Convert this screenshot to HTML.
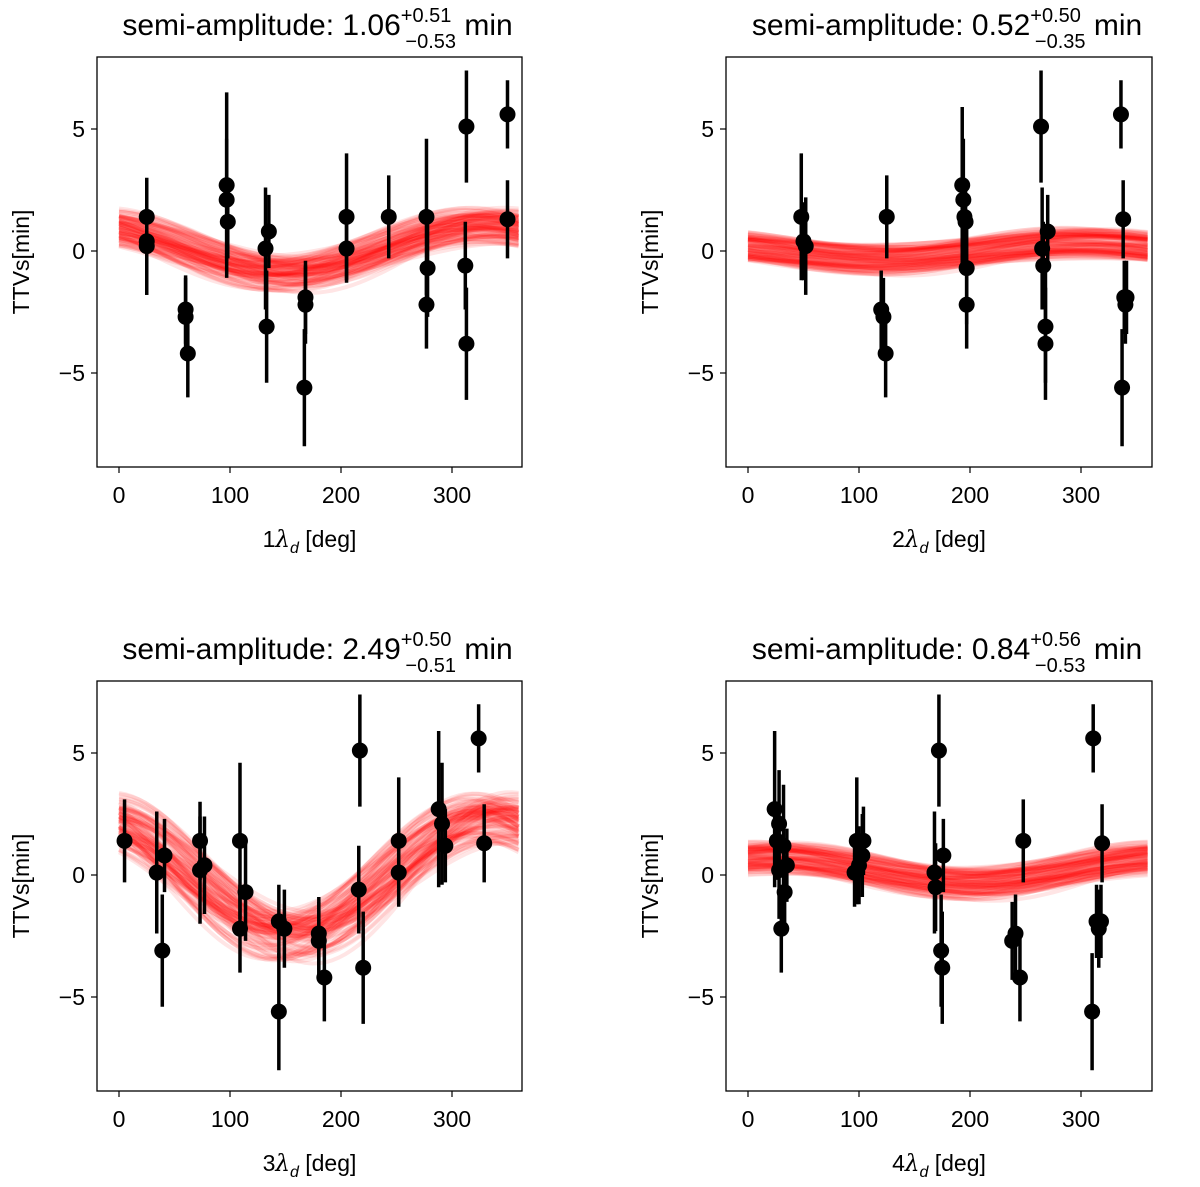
<!DOCTYPE html>
<html><head><meta charset="utf-8"><style>
body{margin:0;background:#fff;}
svg text{font-family:"Liberation Sans","DejaVu Sans",sans-serif;fill:#000;}
</style></head><body>
<svg id="fig" width="1200" height="1182" viewBox="0 0 1200 1182" xmlns="http://www.w3.org/2000/svg"></svg>
<script>
// Panel 1 data
const x1 = [25,25,25,60,60,62,97,97,98,135,132,133,168,168,167,205,205,243,277,278,277,313,312,313,350,350];
const y1 = [1.4,0.4,0.2,-2.4,-2.7,-4.2,2.7,2.1,1.2,0.8,0.1,-3.1,-1.9,-2.2,-5.6,1.4,0.1,1.4,1.4,-0.7,-2.2,5.1,-0.6,-3.8,5.6,1.3];
const e1 = [1.6,2.2,2.0,1.4,1.6,1.8,3.8,2.5,1.5,1.5,2.5,2.3,1.5,1.6,2.4,2.6,1.4,1.7,3.2,2.0,1.8,2.3,1.8,2.3,1.4,1.6];
// Panel 2 data
const x2 = [48,50,52,120,122,124,125,193,194,195,196,197,197,264,265,266,268,268,270,336,338,339,340,341,337];
const y2 = [1.4,0.4,0.2,-2.4,-2.7,-4.2,1.4,2.7,2.1,1.4,1.2,-0.7,-2.2,5.1,0.1,-0.6,-3.1,-3.8,0.8,5.6,1.3,-1.9,-2.2,-1.9,-5.6];
const e2 = [2.6,1.6,2.0,1.6,1.6,1.8,1.7,3.2,2.5,1.5,1.5,2.3,1.8,2.3,2.5,1.8,2.3,2.3,1.5,1.4,1.6,1.5,1.6,1.5,2.4];
// Panel 3 data
const x3 = [5,34,41,39,73,73,77,109,109,114,144,144,149,180,180,185,216,217,220,252,252,288,291,294,324,329];
const y3 = [1.4,0.1,0.8,-3.1,1.4,0.2,0.4,1.4,-2.2,-0.7,-1.9,-5.6,-2.2,-2.4,-2.7,-4.2,-0.6,5.1,-3.8,1.4,0.1,2.7,2.1,1.2,5.6,1.3];
const e3 = [1.7,2.5,1.5,2.3,1.6,2.2,2.0,3.2,1.8,2.0,1.5,2.4,1.6,1.5,1.6,1.8,1.8,2.3,2.3,2.6,1.4,3.2,2.5,1.5,1.4,1.6];
// Panel 4 data
const x4 = [24,26,28,28,30,32,33,35,96,98,100,103,104,168,169,172,174,175,176,238,241,245,248,310,311,314,316,318,319];
const y4 = [2.7,1.4,2.1,0.2,-2.2,1.2,-0.7,0.4,0.1,1.4,0.4,0.8,1.4,0.1,-0.5,5.1,-3.1,-3.8,0.8,-2.7,-2.4,-4.2,1.4,-5.6,5.6,-1.9,-2.2,-1.9,1.3];
const e4 = [3.2,1.6,2.2,2.0,1.8,2.5,1.5,1.5,1.4,2.6,1.6,1.7,1.4,2.5,1.8,2.3,2.3,2.3,1.5,1.6,1.6,1.8,1.7,2.4,1.4,1.5,1.6,1.5,1.6];
// Model band parameters (offset, amplitude, phase of max in deg)
const modelC = [0.1,0.0,0.0,0.2];
const modelA = [1.0,0.35,2.45,0.55];
const modelPhase = [330,300,335,20];
const xTicks = [0,100,200,300];
const yTicks = [5,0,-5];
const titles = [["1.06","+0.51","\u22120.53"],["0.52","+0.50","\u22120.35"],["2.49","+0.50","\u22120.51"],["0.84","+0.56","\u22120.53"]];
const xlabels = ["1","2","3","4"];

const NS="http://www.w3.org/2000/svg";
const svg=document.getElementById('fig');
function mk(tag,attrs,parent){const e=document.createElementNS(NS,tag);for(const k in attrs)e.setAttribute(k,attrs[k]);(parent||svg).appendChild(e);return e;}

const panels=[
 {L:97,R:522,T:57,B:467,xs:x1,ys:y1,es:e1},
 {L:726,R:1152,T:57,B:467,xs:x2,ys:y2,es:e2},
 {L:97,R:522,T:681,B:1091,xs:x3,ys:y3,es:e3},
 {L:726,R:1152,T:681,B:1091,xs:x4,ys:y4,es:e4}
];
panels.forEach((p,i)=>{
  const g=mk('g',{});
  
  
  const x0=p.L+22, k=1.11;
  const X=v=>x0+v*k;
  const yz=p.T+194, ky=24.4;
  const Y=v=>yz-v*ky;
  const band=mk('g',{},g);
  
  
  for(let j=0;j<90;j++){
    const c=modelC[i]+0.45*Math.sin(j*1.7);
    const A=modelA[i]*(1+0.25*Math.sin(j*2.3))+0.15*Math.cos(j*1.3);
    const ph=modelPhase[i]+22*Math.sin(j*0.9);
    let d='';
    for(let v=0;v<=360;v+=6){d+=(v?'L':'M')+X(v).toFixed(1)+','+Y(c+A*Math.cos((v-ph)*Math.PI/180)).toFixed(1);}
    const path=mk('path',{d:d,fill:'none',stroke:'#ff0000','stroke-opacity':0.1,'stroke-width':4},band);
    
    
  }
  p.xs.forEach((xv,j)=>{
    const yv=p.ys[j], ev=p.es[j];
    const ln=mk('line',{x1:X(xv),x2:X(xv),y1:Y(yv+ev),y2:Y(yv-ev),stroke:'#000','stroke-width':3.5},g);
    
    
    const c=mk('circle',{cx:X(xv),cy:Y(yv),r:8,fill:'#000'},g);
    
    
  });
  const fr=mk('rect',{x:p.L,y:p.T,width:p.R-p.L,height:p.B-p.T,fill:'none',stroke:'#000','stroke-width':1.3},g);
  
  
  xTicks.forEach(t=>{
    mk('line',{x1:X(t),x2:X(t),y1:p.B,y2:p.B+6,stroke:'#000','stroke-width':1.2},g);
    const tx=mk('text',{x:X(t),y:p.B+36,'font-size':23,'text-anchor':'middle'},g);
    tx.textContent=t;
    
    
  });
  yTicks.forEach(t=>{
    mk('line',{x1:p.L-6,x2:p.L,y1:Y(t),y2:Y(t),stroke:'#000','stroke-width':1.2},g);
    const tx=mk('text',{x:p.L-12,y:Y(t)+8,'font-size':23,'text-anchor':'end'},g);
    tx.textContent=t===0?'0':(t<0?'\u22125':'5');
    
    
  });
  const yl=mk('text',{x:0,y:0,'font-size':23,'text-anchor':'middle',transform:`translate(${p.L-68},${(p.T+p.B)/2}) rotate(-90)`},g);
  yl.textContent='TTVs[min]';
  
  
  const xl=mk('text',{x:(p.L+p.R)/2,y:p.B+80,'font-size':23,'text-anchor':'middle'},g);
  xl.innerHTML=xlabels[i]+'<tspan font-style="italic" font-family="DejaVu Serif">\u03bb</tspan><tspan font-size="16" dy="6" font-style="italic">d</tspan><tspan dy="-6"> [deg]</tspan>';
  
  
  const tl=mk('text',{x:(p.L+p.R)/2+8,y:p.T-22,'font-size':30,'text-anchor':'middle'},g);
  const t=titles[i];
  tl.innerHTML='semi-amplitude: '+t[0]+'<tspan font-size="20" dy="-13">'+t[1]+'</tspan><tspan font-size="20" dx="-46" dy="26">'+t[2]+'</tspan><tspan dy="-13"> min</tspan>';
  
  
});
</script>
</body></html>
